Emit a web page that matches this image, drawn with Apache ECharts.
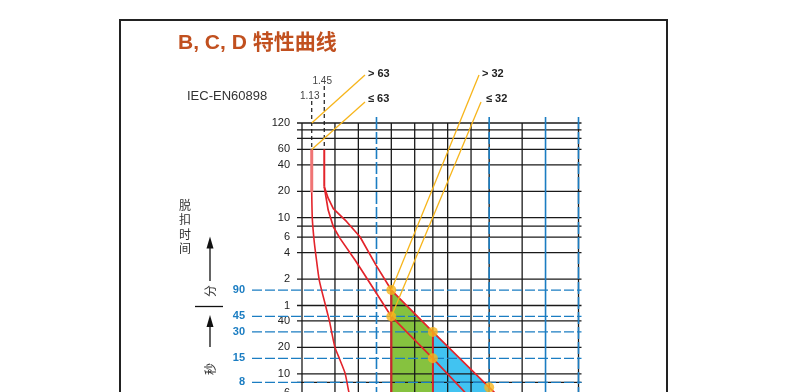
<!DOCTYPE html>
<html><head><meta charset="utf-8">
<script src="https://cdn.jsdelivr.net/npm/echarts@6/dist/echarts.min.js"></script>
<style>html,body{margin:0;padding:0;background:#fff}#c{width:800px;height:392px}</style>
</head><body><div id="c"></div>
<script>
// ---------------- data (x: multiples of In, y: seconds) ----------------
const xBlackLines = [1.5, 2, 3, 4, 5, 6, 8, 10, 15, 30];
const xBlueLines = [2.5, 10, 20, 30];
const xBlueDashed = [true, true, false, true];
const yBlackLines = [7200, 6000, 4800, 3600, 2400, 1200, 600, 480, 360, 240, 120, 60, 40, 20, 10, 8, 6];
const yTickValues = [7200, 3600, 2400, 1200, 600, 360, 240, 120, 60, 40, 20, 10, 6];
const yTickLabels = ['120', '60', '40', '20', '10', '6', '4', '2', '1', '40', '20', '10', '6'];
const yBlueValues = [90, 45, 30, 15, 8];
const yBlueLabels = ['90', '45', '30', '15', '8'];
const refX = [1.127, 1.315];
const refLabels = ['1.13', '1.45'];
const refYEnd = [3600, 3600];
const curveNonTripTop = [[1.127, 3600], [1.127, 1170]];
const curveNonTrip = [[1.127, 1170], [1.135, 590], [1.159, 340], [1.184, 231], [1.237, 116], [1.339, 58.7], [1.406, 38.8], [1.441, 29.7], [1.5, 20], [1.582, 15], [1.7, 10.1], [1.78, 6.19], [1.873, 4.4]];
const curveTripTop = [[1.315, 3600], [1.315, 1350]];
const curveTripUpper = [[1.315, 1350], [1.38, 1000], [1.47, 760], [1.733, 540], [2.04, 364], [2.485, 173], [3, 90], [5, 30], [10, 7], [12, 4.8]];
const curveTripLower = [[1.315, 1350], [1.38, 733], [1.47, 473], [1.596, 349], [1.92, 198], [2.08, 152], [3, 45], [5, 15], [7.4, 6.19], [10, 3.2]];
const zoneB = [[3, 90], [5, 30]];
const zoneC = [[5, 30], [10, 7]];
const limitB = [[3, 90], [3, 1]];
const limitC = [[5, 30], [5, 1]];
const markPoints = [[3, 90], [3, 45], [5, 30], [5, 15], [10, 7]];
const leaderFrom = [[1.127, 7200], [1.127, 3600], [3, 90], [3, 45]];
const leaderText = ['> 63', '≤ 63', '> 32', '≤ 32'];
const Y_MIN = 6.2, Y_MAX = 7200, X_MIN = 1, X_MAX = 30;

// ---------------- layout / style ----------------
const LEADER_END = [[365, 75], [365, 102], [479, 75], [481, 102]];
const LEADER_LABEL = [[368, 74], [368, 99], [482, 74], [486, 99]];
const REF_TOP = [101, 86];
const REF_LABEL_Y = [96, 81];
const BLUE = '#1b7dc2';
const RED = '#e3242b';
const YEL = '#f7b51b';
const INK = '#1a1a1a';
const FONT = '"Liberation Sans", Arial, sans-serif';
const CJK = '"Noto Sans CJK SC", sans-serif';

const chart = echarts.init(document.getElementById('c'), null, {renderer: 'canvas'});

function xr(api) { return [api.coord([X_MIN, Y_MIN])[0], api.coord([X_MAX, Y_MIN])[0]]; }

const option = {
  animation: false,
  backgroundColor: '#fff',
  grid: {left: 302, top: 123, width: 276.5, height: 269, containLabel: false},
  xAxis: {type: 'log', logBase: 10, min: X_MIN, max: X_MAX, axisLine: {show: false}, axisTick: {show: false}, axisLabel: {show: false}, splitLine: {show: false}},
  yAxis: {type: 'log', logBase: 10, min: Y_MIN, max: Y_MAX, axisLine: {show: false}, axisTick: {show: false}, axisLabel: {show: false}, splitLine: {show: false}},
  series: [
    {type: 'line', data: zoneB, symbol: 'none', lineStyle: {width: 0}, areaStyle: {color: '#86c23f', opacity: 1, origin: 'start'}, z: 1, silent: true},
    {type: 'line', data: zoneC, symbol: 'none', lineStyle: {width: 0}, areaStyle: {color: '#41c3f1', opacity: 1, origin: 'start'}, z: 1, silent: true},
    {type: 'custom', z: 2, silent: true, data: yBlackLines.map(v => [X_MIN, v]),
      renderItem: (p, api) => { const y = api.coord([X_MIN, api.value(1)])[1]; const [a, b] = xr(api);
        return {type: 'line', shape: {x1: a - 5, y1: y, x2: b + 3, y2: y}, style: {stroke: INK, lineWidth: 1.3}}; }},
    {type: 'custom', z: 2, silent: true, data: yTickValues.map(v => [X_MIN, v]),
      renderItem: (p, api) => { const y = api.coord([X_MIN, api.value(1)])[1]; const [a] = xr(api);
        return {type: 'text', x: a - 12, y: y, style: {text: yTickLabels[p.dataIndex], align: 'right', verticalAlign: 'middle', font: '11px ' + FONT, fill: '#222'}}; }},
    {type: 'custom', z: 2, silent: true, data: [X_MIN].concat(xBlackLines).map(v => [v, Y_MAX]),
      renderItem: (p, api) => { const t = api.coord([api.value(0), Y_MAX]); const b = api.coord([api.value(0), Y_MIN]);
        return {type: 'line', shape: {x1: t[0], y1: t[1], x2: b[0], y2: b[1] + 5}, style: {stroke: INK, lineWidth: 1.3}}; }},
    {type: 'custom', z: 3, silent: true, data: yBlueValues.map(v => [X_MIN, v]),
      renderItem: (p, api) => { const y = api.coord([X_MIN, api.value(1)])[1]; const [a, b] = xr(api);
        return {type: 'group', children: [
          {type: 'line', shape: {x1: a - 50, y1: y, x2: b + 3, y2: y}, style: {stroke: BLUE, lineWidth: 1.3, lineDash: [10, 3]}},
          {type: 'text', x: a - 57, y: y, style: {text: yBlueLabels[p.dataIndex], align: 'right', verticalAlign: 'middle', font: 'bold 11px ' + FONT, fill: BLUE}}
        ]}; }},
    {type: 'custom', z: 3, silent: true, data: xBlueLines.map(v => [v, Y_MAX]),
      renderItem: (p, api) => { const t = api.coord([api.value(0), Y_MAX]); const b = api.coord([api.value(0), Y_MIN]);
        return {type: 'line', shape: {x1: t[0], y1: t[1] - 6, x2: b[0], y2: b[1] + 5}, style: {stroke: BLUE, lineWidth: 1.6, lineDash: xBlueDashed[p.dataIndex] ? [12, 3] : null}}; }},
    {type: 'custom', z: 3, silent: true, data: refX.map((v, i) => [v, refYEnd[i]]),
      renderItem: (p, api) => { const e = api.coord([api.value(0), api.value(1)]); const i = p.dataIndex;
        return {type: 'group', children: [
          {type: 'line', shape: {x1: e[0], y1: REF_TOP[i], x2: e[0], y2: e[1]}, style: {stroke: INK, lineWidth: 1.2, lineDash: [4, 3]}},
          {type: 'text', x: e[0] - 2, y: REF_LABEL_Y[i], style: {text: refLabels[i], align: 'center', verticalAlign: 'middle', font: '10px ' + FONT, fill: '#444'}}
        ]}; }},
    {type: 'line', data: curveNonTripTop, symbol: 'none', lineStyle: {color: '#f07474', width: 3}, z: 4, silent: true},
    {type: 'line', data: curveNonTrip, symbol: 'none', smooth: 0.2, lineStyle: {color: RED, width: 1.6}, z: 4, silent: true},
    {type: 'line', data: curveTripTop, symbol: 'none', lineStyle: {color: RED, width: 2}, z: 4, silent: true},
    {type: 'line', data: curveTripUpper, symbol: 'none', lineStyle: {color: RED, width: 1.7}, z: 4, silent: true},
    {type: 'line', data: curveTripLower, symbol: 'none', lineStyle: {color: RED, width: 1.7}, z: 4, silent: true},
    {type: 'line', data: limitB, symbol: 'none', lineStyle: {color: '#c8262b', width: 2.2}, z: 4, silent: true},
    {type: 'line', data: limitC, symbol: 'none', lineStyle: {color: RED, width: 1.8}, z: 4, silent: true},
    {type: 'custom', z: 5, silent: true, data: leaderFrom,
      renderItem: (p, api) => { const s = api.coord([api.value(0), api.value(1)]); const i = p.dataIndex;
        return {type: 'group', children: [
          {type: 'line', shape: {x1: s[0], y1: s[1], x2: LEADER_END[i][0], y2: LEADER_END[i][1]}, style: {stroke: YEL, lineWidth: 1.3}},
          {type: 'text', x: LEADER_LABEL[i][0], y: LEADER_LABEL[i][1], style: {text: leaderText[i], align: 'left', verticalAlign: 'middle', font: 'bold 11px ' + FONT, fill: '#222'}}
        ]}; }},
    {type: 'scatter', data: markPoints, symbol: 'circle', symbolSize: 10, itemStyle: {color: YEL}, z: 6, silent: true}
  ],
  graphic: {elements: [
    {type: 'polyline', shape: {points: [[120, 400], [120, 20], [667, 20], [667, 400]]}, style: {stroke: '#222', lineWidth: 2, fill: null}, silent: true},
    {type: 'text', x: 178, y: 43, style: {text: 'B, C, D 特性曲线', font: 'bold 21px "Liberation Sans", "Noto Sans CJK SC", sans-serif', fill: '#c1501f', verticalAlign: 'middle'}},
    {type: 'text', x: 187, y: 96, style: {text: 'IEC-EN60898', font: '13px ' + FONT, fill: '#333', verticalAlign: 'middle'}},
    {type: 'text', x: 185, y: 205, style: {text: '脱', font: '12px ' + CJK, fill: '#333', align: 'center', verticalAlign: 'middle'}},
    {type: 'text', x: 185, y: 219.5, style: {text: '扣', font: '12px ' + CJK, fill: '#333', align: 'center', verticalAlign: 'middle'}},
    {type: 'text', x: 185, y: 234, style: {text: '时', font: '12px ' + CJK, fill: '#333', align: 'center', verticalAlign: 'middle'}},
    {type: 'text', x: 185, y: 248.5, style: {text: '间', font: '12px ' + CJK, fill: '#333', align: 'center', verticalAlign: 'middle'}},
    {type: 'line', shape: {x1: 210, y1: 281, x2: 210, y2: 246}, style: {stroke: '#111', lineWidth: 1.3}},
    {type: 'polygon', shape: {points: [[210, 236.5], [206.5, 248.5], [213.5, 248.5]]}, style: {fill: '#111'}},
    {type: 'text', x: 210, y: 291, rotation: Math.PI / 2, style: {text: '分', font: '12px ' + CJK, fill: '#333', align: 'center', verticalAlign: 'middle'}},
    {type: 'line', shape: {x1: 195, y1: 306.5, x2: 223, y2: 306.5}, style: {stroke: '#111', lineWidth: 1.3}},
    {type: 'line', shape: {x1: 210, y1: 347, x2: 210, y2: 324}, style: {stroke: '#111', lineWidth: 1.3}},
    {type: 'polygon', shape: {points: [[210, 315], [206.5, 327], [213.5, 327]]}, style: {fill: '#111'}},
    {type: 'text', x: 210, y: 369, rotation: Math.PI / 2, style: {text: '秒', font: '12px ' + CJK, fill: '#333', align: 'center', verticalAlign: 'middle'}}
  ]}
};
chart.setOption(option);
</script>
</body></html>
